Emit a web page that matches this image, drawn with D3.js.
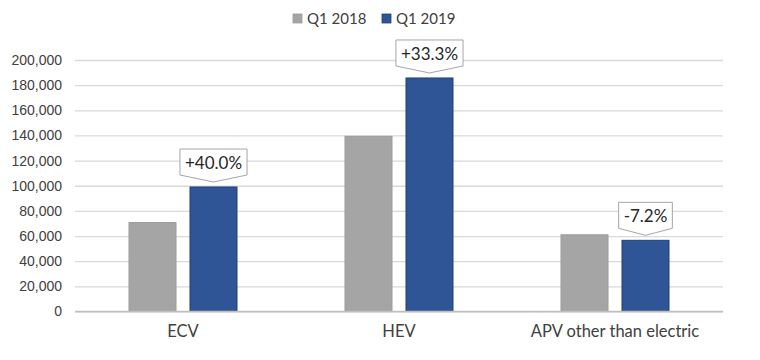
<!DOCTYPE html>
<html>
<head>
<meta charset="utf-8">
<script src="https://cdn.jsdelivr.net/npm/d3@7"></script>
<style>
  body { margin: 0; background: #fff; }
  svg { font-family: Lato, "Open Sans", sans-serif; }
  .axis text { fill: #404040; font-size: 14px; }
</style>
</head>
<body>
<svg id="chart" width="760" height="360"></svg>
<script>
// data
const categories = ["ECV", "HEV", "APV other than electric"];
const series = ["Q1 2018", "Q1 2019"];
const q1_2018 = [70700, 139300, 61000];
const q1_2019 = [99000, 185700, 56600];
const change_labels = ["+40.0%", "+33.3%", "-7.2%"];
const y_ticks = [0, 20000, 40000, 60000, 80000, 100000, 120000, 140000, 160000, 180000, 200000];

const colors = { "Q1 2018": "#a5a5a5", "Q1 2019": "#2f5597" };
const strokes = { "Q1 2018": "#9a9a9a", "Q1 2019": "#203f78" };

const svg = d3.select("#chart");
const margin = { left: 75, right: 37, top: 60, bottom: 48.5 };
const width = 760, height = 360;

const rows = categories.map((c, i) => ({
  category: c,
  values: [
    { key: series[0], value: q1_2018[i] },
    { key: series[1], value: q1_2019[i] },
  ],
  label: change_labels[i],
}));

const x0 = d3.scaleBand()
  .domain(categories)
  .range([margin.left, width - margin.right]);

const x1 = d3.scaleBand()
  .domain(series)
  .range([0, x0.bandwidth()])
  .paddingInner(0.213)
  .paddingOuter(0.877);

const y = d3.scaleLinear()
  .domain([0, 200000])
  .range([height - margin.bottom, margin.top]);

// gridlines + y labels
const y_axis = svg.append("g")
  .attr("class", "axis")
  .attr("transform", `translate(${margin.left},0)`)
  .call(d3.axisLeft(y).tickValues(y_ticks).tickFormat(d3.format(",")).tickSize(0).tickPadding(13))
  .call((g) => g.select(".domain").remove())
  .call((g) =>
    g.selectAll(".tick line")
      .attr("x2", width - margin.left - margin.right)
      .attr("stroke", "#d9d9d9")
      .attr("stroke-width", 1.3)
  );

// bars
const groups = svg.append("g")
  .selectAll("g")
  .data(rows)
  .join("g")
  .attr("transform", (d) => `translate(${x0(d.category)},0)`);

groups.selectAll("rect")
  .data((d) => d.values)
  .join("rect")
  .attr("x", (d) => x1(d.key) + 0.5)
  .attr("y", (d) => y(d.value))
  .attr("width", x1.bandwidth() - 1)
  .attr("height", (d) => y(0) - y(d.value))
  .attr("fill", (d) => colors[d.key])
  .attr("stroke", (d) => strokes[d.key])
  .attr("stroke-width", 1);

// x axis line
svg.append("line")
  .attr("x1", margin.left)
  .attr("x2", width - margin.right)
  .attr("y1", y(0))
  .attr("y2", y(0))
  .attr("stroke", "#bfbfbf")
  .attr("stroke-width", 1.3);

// category labels
svg.append("g")
  .attr("class", "axis")
  .selectAll("text")
  .data(categories)
  .join("text")
  .attr("x", (d) => x0(d) + x0.bandwidth() / 2)
  .attr("y", 337)
  .attr("text-anchor", "middle")
  .style("font-size", "16.5px")
  .text((d) => d);

// callouts over Q1 2019 bars
const callouts = svg.append("g")
  .selectAll("g")
  .data(rows)
  .join("g")
  .attr("transform", (d) => {
    const cx = x0(d.category) + x1(series[1]) + x1.bandwidth() / 2;
    const tip = y(d.values[1].value) - 5;
    return `translate(${cx},${tip})`;
  });

callouts.append("text")
  .attr("class", "callout-text")
  .attr("text-anchor", "middle")
  .attr("y", -13)
  .style("font-size", "17px")
  .attr("fill", "#262626")
  .text((d) => d.label);

callouts.each(function () {
  const g = d3.select(this);
  const bw = g.select("text").node().getBBox().width;
  const hw = bw / 2 + 5;
  const h = 26, t = 7;
  const pts = [
    [-hw, -h - t], [hw, -h - t], [hw, -t], [0, 0], [-hw, -t],
  ];
  g.insert("path", "text")
    .attr("d", d3.line()(pts) + "Z")
    .attr("fill", "#fff")
    .attr("stroke", "#a6a6a6")
    .attr("stroke-width", 1);
});

// legend
const legend = svg.append("g").attr("transform", "translate(293,0)");
const legend_items = legend.selectAll("g")
  .data(series)
  .join("g")
  .attr("transform", (d, i) => `translate(${i * 89},0)`);

legend_items.append("rect")
  .attr("x", 0)
  .attr("y", 14)
  .attr("width", 9)
  .attr("height", 9)
  .attr("fill", (d) => colors[d])
  .attr("stroke", (d) => strokes[d])
  .attr("stroke-width", 0.8);

legend_items.append("text")
  .attr("x", 14)
  .attr("y", 24)
  .attr("fill", "#404040")
  .style("font-size", "15px")
  .text((d) => d);
</script>
</body>
</html>
